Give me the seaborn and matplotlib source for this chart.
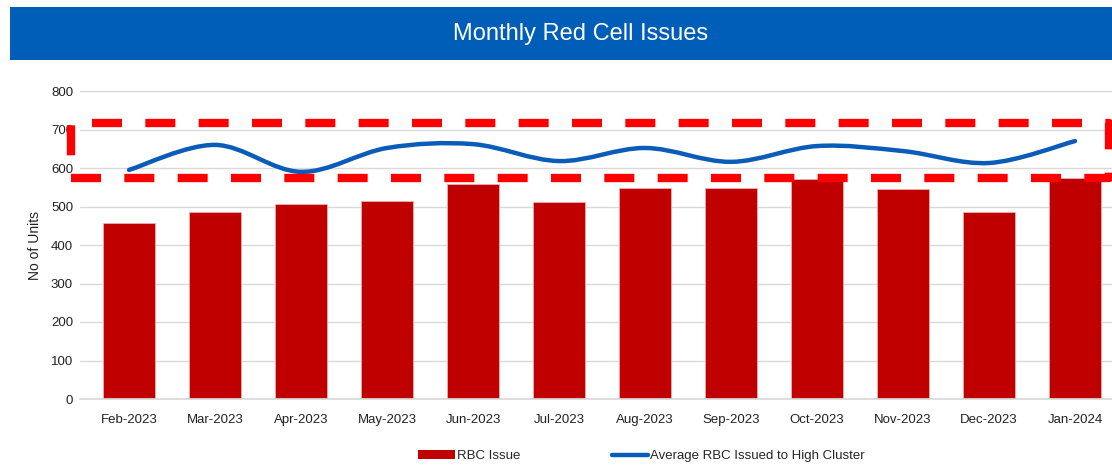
import numpy as np
import pandas as pd
import matplotlib
matplotlib.use("Agg")
import matplotlib.pyplot as plt
import seaborn as sns
from matplotlib.path import Path
from matplotlib.patches import PathPatch, Rectangle, Patch
from matplotlib.lines import Line2D

# --- Data ---
months = ["Feb-2023", "Mar-2023", "Apr-2023", "May-2023", "Jun-2023", "Jul-2023",
          "Aug-2023", "Sep-2023", "Oct-2023", "Nov-2023", "Dec-2023", "Jan-2024"]
rbc_issue = [457, 486, 506, 514, 558, 512, 548, 548, 571, 545, 486, 574]
avg_high_cluster = [595, 660, 590, 652, 662, 618, 652, 616, 657, 644, 613, 670]

df = pd.DataFrame({"Month": months, "RBC Issue": rbc_issue,
                   "Average": avg_high_cluster})

BAR_RED  = "#C00000"
LINE_BLUE = "#0B5CB8"
BANNER   = "#005EB8"

sns.set_theme(style="white")
plt.rcParams["font.family"] = ["Liberation Sans Narrow", "Liberation Sans", "DejaVu Sans"]

fig = plt.figure(figsize=(11.12, 4.65), dpi=100)
ax = fig.add_axes([80 / 1112, 1 - 399 / 465, 1032 / 1112, 308 / 465])

# --- Bars ---
sns.barplot(data=df, x="Month", y="RBC Issue", color=BAR_RED, saturation=1,
            width=0.6, edgecolor="#E8B0B0", linewidth=0.6, ax=ax, zorder=2)

# --- Smoothed line (Catmull-Rom style bezier through the points) ---
xs = np.arange(len(months), dtype=float)
ys = np.array(avg_high_cluster, dtype=float)
verts = [(xs[0], ys[0])]
codes = [Path.MOVETO]
t = 1 / 6
for i in range(len(xs) - 1):
    p0 = np.array([xs[max(i - 1, 0)], ys[max(i - 1, 0)]])
    p1 = np.array([xs[i], ys[i]])
    p2 = np.array([xs[i + 1], ys[i + 1]])
    p3 = np.array([xs[min(i + 2, len(xs) - 1)], ys[min(i + 2, len(xs) - 1)]])
    c1 = p1 + (p2 - p0) * t
    c2 = p2 - (p3 - p1) * t
    verts += [tuple(c1), tuple(c2), tuple(p2)]
    codes += [Path.CURVE4] * 3
ax.add_patch(PathPatch(Path(verts, codes), facecolor="none", edgecolor=LINE_BLUE,
                       lw=3.2, capstyle="round", zorder=4))

# --- Axes styling ---
ax.set_xlim(-0.57, 11.43)
ax.set_ylim(0, 800)
ax.set_yticks(range(0, 801, 100))
ax.yaxis.grid(True, color="#D9D9D9", lw=1)
ax.set_axisbelow(True)
for s in ["top", "right", "left"]:
    ax.spines[s].set_visible(False)
ax.spines["bottom"].set_color("#D9D9D9")
ax.tick_params(axis="both", length=0, labelsize=9.5, colors="#222222")
ax.tick_params(axis="x", pad=11)
ax.tick_params(axis="y", pad=5)
ax.set_xlabel("")
ax.set_ylabel("No of Units", fontsize=10, color="#222222", labelpad=6)

# --- Red dashed highlight around the line ---
hl = Rectangle((-0.68, 574), 12.08, 142, fill=False, edgecolor="#FF0000", lw=6,
               linestyle=(0, (3.6, 2.8)), clip_on=False, zorder=5,
               joinstyle="round")
ax.add_patch(hl)

# --- Title banner ---
fig.patches.append(Rectangle((10 / 1112, 1 - 60 / 465), 1102 / 1112, 53 / 465,
                             transform=fig.transFigure, facecolor=BANNER,
                             edgecolor="none", zorder=0))
fig.text(0.522, 1 - 34 / 465, "Monthly Red Cell Issues", color="white",
         fontsize=17, ha="center", va="center")

# --- Legend ---
handles = [Patch(facecolor=BAR_RED, edgecolor="none"),
           Line2D([0], [0], color=LINE_BLUE, lw=3.2)]
fig.legend(handles, ["RBC Issue", "Average RBC Issued to High Cluster"],
           loc="center", bbox_to_anchor=(0.577, 1 - 456 / 465), ncol=2,
           frameon=False, fontsize=9.5, handlelength=2.8, handletextpad=0.15,
           columnspacing=6.9)

fig.savefig("out.png", dpi=100)
